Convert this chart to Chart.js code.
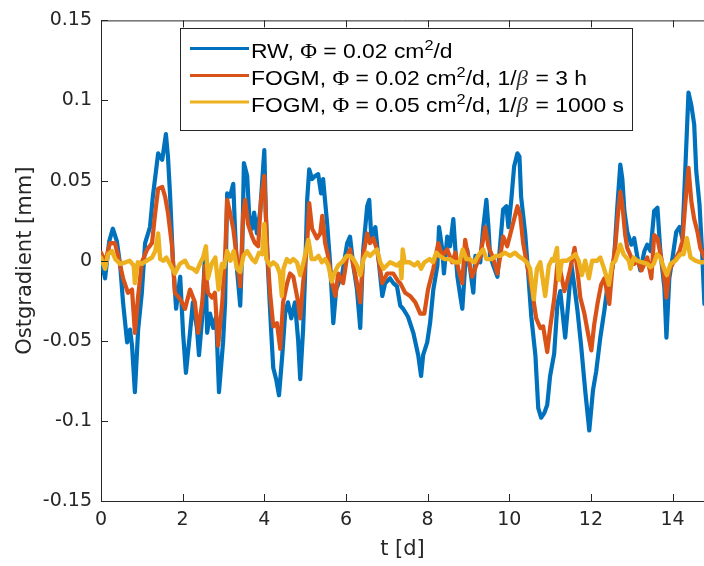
<!DOCTYPE html>
<html>
<head>
<meta charset="utf-8">
<script src="https://cdn.jsdelivr.net/npm/chart.js@4"></script>
<style>
html,body{margin:0;padding:0;background:#fff;}
#wrap{width:704px;height:566px;position:relative;}
</style>
</head>
<body>
<div id="wrap"><canvas id="c" width="704" height="566"></canvas></div>
<script>
// ---------------- DATA ----------------
const seriesNames = [
  'RW, Φ = 0.02 cm²/d',
  'FOGM, Φ = 0.02 cm²/d, 1/β = 3 h',
  'FOGM, Φ = 0.05 cm²/d, 1/β = 1000 s'
];
const xTickValues = [0, 2, 4, 6, 8, 10, 12, 14];
const yTickValues = [-0.15, -0.1, -0.05, 0, 0.05, 0.1, 0.15];
const yTickLabels = ['-0.15', '-0.1', '-0.05', '0', '0.05', '0.1', '0.15'];
const xTitle = 't [d]';
const yTitle = 'Ostgradient [mm]';

// RW (blue) – time [d]
const tBlue = [
  0,0.10,0.20,0.29,0.39,0.47,0.54,0.64,0.71,0.76,0.83,0.91,1.00,
  1.08,1.20,1.27,1.40,1.50,1.59,1.64,1.69,1.76,1.84,1.94,2.01,2.08,
  2.18,2.25,2.35,2.40,2.48,2.55,2.60,2.67,2.75,2.82,2.89,2.99,3.04,
  3.09,3.16,3.24,3.28,3.33,3.41,3.46,3.50,3.58,3.63,3.70,3.75,3.82,3.90,4.00,
  4.04,4.09,4.17,4.22,4.29,4.36,4.44,4.51,4.58,4.66,4.75,4.83,4.88,4.95,5.00,
  5.05,5.10,5.17,5.25,5.32,5.39,5.44,5.54,5.61,5.69,5.76,5.91,6.03,
  6.10,6.18,6.27,6.35,6.42,6.52,6.57,6.62,6.72,6.79,6.89,6.96,7.08,
  7.16,7.25,7.33,7.40,7.52,7.65,7.77,7.84,7.89,7.99,8.06,
  8.14,8.24,8.28,8.36,8.40,8.48,8.55,8.63,8.68,8.73,8.80,8.85,8.92,8.97,9.04,
  9.12,9.17,9.29,9.36,9.44,9.49,9.53,9.61,9.71,9.78,9.85,9.93,9.98,10.05,
  10.12,10.20,10.25,10.29,10.39,10.47,10.54,10.64,10.71,10.78,10.86,10.93,11.00,
  11.10,11.18,11.25,11.32,11.37,11.45,11.52,11.59,11.67,11.76,11.86,11.96,12.05,
  12.13,12.23,12.33,12.40,12.48,12.57,12.65,12.72,12.77,12.82,12.89,12.99,13.06,
  13.14,13.21,13.31,13.38,13.46,13.55,13.63,13.70,13.80,13.85,13.92,14.00,
  14.09,14.17,14.24,14.31,14.39,14.46,14.53,14.58,14.66,14.73,14.78
];
const vBlue = [
  0.001,-0.011,0.012,0.020,0.012,-0.003,-0.026,-0.051,-0.043,-0.053,-0.082,-0.043,-0.020,
  0.011,0.021,0.040,0.067,0.063,0.079,0.065,0.042,0.001,-0.030,-0.010,-0.045,-0.070,
  -0.045,-0.026,-0.042,-0.059,-0.035,0.007,-0.045,-0.033,-0.042,-0.035,-0.082,-0.051,-0.026,
  0.042,0.040,0.048,0.021,-0.005,-0.028,0.007,0.061,0.053,0.028,0.020,0.030,0.017,0.031,0.069,
  0.028,-0.005,-0.045,-0.067,-0.074,-0.084,-0.059,-0.033,-0.026,-0.036,-0.026,-0.050,-0.074,-0.043,-0.008,
  0.038,0.057,0.051,0.053,0.054,0.042,0.051,0.023,-0.001,-0.039,-0.018,-0.008,0.011,
  0.015,-0.003,-0.018,-0.042,0.006,0.034,0.038,0.015,0.021,0.003,-0.022,-0.014,-0.011,
  -0.014,-0.016,-0.028,-0.030,-0.035,-0.045,-0.059,-0.072,-0.059,-0.051,-0.039,
  -0.018,-0.003,0.021,0.007,-0.008,0.015,0.009,0.026,0.007,-0.010,-0.022,-0.030,-0.003,0.007,-0.005,
  -0.020,0.003,-0.001,0.020,0.038,0.021,0.003,-0.003,-0.010,0.011,0.032,0.034,0.021,0.038,
  0.059,0.067,0.065,0.040,0.017,-0.010,-0.035,-0.059,-0.092,-0.098,-0.095,-0.090,-0.072,
  -0.058,-0.027,-0.019,-0.036,-0.048,-0.025,-0.002,-0.015,-0.031,-0.053,-0.081,-0.106,-0.081,
  -0.069,-0.048,-0.031,-0.017,-0.011,0.002,0.035,0.060,0.051,0.031,0.018,0.010,0.014,
  0.002,-0.006,0.006,0.010,0.006,0.031,0.033,0.006,-0.017,-0.048,-0.011,0.002,
  0.018,0.021,0.014,0.056,0.105,0.097,0.085,0.056,0.035,0.002,-0.027
];

// FOGM 3 h (orange)
const tOrange = [
  0,0.10,0.22,0.34,0.42,0.54,0.66,0.76,0.83,0.91,1.00,
  1.13,1.25,1.32,1.40,1.50,1.57,1.64,1.74,1.81,1.94,2.06,
  2.18,2.30,2.38,2.48,2.55,2.62,2.72,2.79,2.87,2.97,3.04,
  3.09,3.16,3.24,3.33,3.41,3.48,3.53,3.60,3.70,3.77,3.85,3.92,4.00,
  4.07,4.14,4.22,4.31,4.39,4.46,4.56,4.63,4.71,4.83,4.88,4.95,5.05,
  5.10,5.17,5.29,5.37,5.42,5.49,5.56,5.66,5.74,5.81,5.93,6.03,
  6.10,6.18,6.27,6.35,6.42,6.52,6.59,6.67,6.76,6.89,7.01,
  7.16,7.28,7.33,7.45,7.57,7.70,7.82,7.92,8.01,
  8.14,8.26,8.36,8.48,8.60,8.68,8.75,8.85,8.92,9.00,
  9.09,9.22,9.29,9.41,9.49,9.61,9.71,9.78,9.85,9.95,10.07,
  10.20,10.27,10.34,10.44,10.56,10.66,10.76,10.83,10.93,11.00,
  11.10,11.18,11.25,11.35,11.42,11.52,11.60,11.67,11.74,11.84,11.94,12.01,
  12.08,12.16,12.25,12.33,12.45,12.52,12.60,12.67,12.72,12.77,12.84,12.89,12.99,
  13.06,13.14,13.24,13.31,13.38,13.48,13.55,13.63,13.72,13.80,13.85,13.92,14.00,
  14.09,14.17,14.24,14.31,14.39,14.46,14.53,14.61,14.68,14.78
];
const vOrange = [
  0.005,-0.001,0.011,0.011,0.003,-0.011,-0.020,-0.018,-0.045,-0.022,-0.001,
  0.007,0.011,0.028,0.045,0.046,0.040,0.030,0.009,-0.020,-0.024,-0.030,
  -0.018,-0.026,-0.045,-0.026,-0.003,-0.020,-0.023,-0.020,-0.053,-0.026,0.003,
  0.038,0.030,0.020,0.001,-0.016,0.028,0.038,0.023,0.015,0.011,0.009,0.038,0.053,
  0.007,-0.020,-0.041,-0.039,-0.055,-0.026,-0.014,-0.008,-0.010,-0.026,-0.036,-0.014,0.011,
  0.036,0.020,0.014,0.017,0.028,0.011,0.003,-0.014,-0.022,-0.008,-0.014,0.003,
  0.007,-0.003,-0.014,-0.026,0.003,0.017,0.011,0.014,0.007,-0.014,-0.008,
  -0.008,-0.013,-0.014,-0.020,-0.022,-0.026,-0.033,-0.033,-0.018,
  -0.005,0.011,0.003,0.007,-0.001,0.005,-0.005,-0.014,0.013,0.001,
  -0.010,-0.001,0.003,0.021,0.009,0.001,-0.008,0.003,0.015,0.009,0.021,
  0.034,0.028,0.011,-0.003,-0.019,-0.036,-0.042,-0.041,-0.057,-0.042,
  -0.024,-0.002,-0.006,-0.019,-0.013,-0.002,0.008,-0.006,-0.023,-0.033,-0.047,-0.056,
  -0.040,-0.027,-0.015,-0.011,-0.027,-0.006,0.010,0.031,0.043,0.035,0.016,0.008,0.002,
  -0.002,0.000,-0.006,-0.002,0.002,-0.011,0.016,0.014,0.002,-0.011,-0.023,-0.006,-0.002,
  0.002,0.006,0.012,0.035,0.058,0.037,0.026,0.018,0.008,0.002
];

// FOGM 1000 s (yellow)
const tYellow = [
  0,0.10,0.17,0.27,0.35,0.47,0.60,0.70,0.80,0.83,0.90,1.00,
  1.12,1.25,1.33,1.40,1.45,1.53,1.60,1.69,1.81,1.93,
  2.06,2.14,2.25,2.34,2.42,2.50,2.57,2.62,2.71,2.80,2.88,2.96,
  3.02,3.09,3.17,3.25,3.33,3.41,3.49,3.58,3.70,3.78,3.87,3.95,
  4.00,4.05,4.14,4.22,4.31,4.38,4.43,4.47,4.55,4.63,4.71,4.80,4.88,4.96,
  5.08,5.16,5.24,5.33,5.41,5.49,5.57,5.65,5.73,5.81,5.90,
  6.02,6.10,6.18,6.27,6.35,6.43,6.51,6.59,6.67,6.76,6.84,6.92,
  7.08,7.25,7.33,7.36,7.39,7.44,7.56,7.68,7.76,7.84,7.92,
  8.05,8.13,8.21,8.29,8.42,8.54,8.66,8.78,8.86,8.95,
  9.03,9.15,9.23,9.36,9.44,9.56,9.68,9.77,9.89,
  10.02,10.14,10.22,10.34,10.43,10.51,10.60,10.68,10.76,10.88,10.97,
  11.05,11.09,11.17,11.21,11.29,11.41,11.53,11.62,11.70,11.78,11.86,11.95,
  12.03,12.15,12.23,12.31,12.44,12.52,12.60,12.72,12.80,12.93,12.97,
  13.05,13.13,13.26,13.38,13.46,13.54,13.62,13.70,13.78,13.86,13.95,
  14.07,14.19,14.27,14.35,14.44,14.56,14.68,14.78
];
const vYellow = [
  0.002,-0.005,0.004,0.006,0.001,-0.002,-0.001,0.000,-0.003,-0.014,-0.001,-0.002,
  0.000,0.002,0.006,0.017,0.001,0.000,0.002,-0.002,-0.008,-0.002,
  0.000,-0.004,-0.005,-0.007,-0.002,0.002,0.009,-0.011,-0.002,0.002,-0.018,-0.002,
  -0.004,0.006,0.000,0.006,-0.005,-0.007,0.003,0.006,0.001,-0.001,0.005,0.004,
  0.023,0.001,-0.003,-0.001,-0.003,-0.008,-0.022,-0.005,0.001,-0.001,0.001,-0.001,-0.009,-0.001,
  0.013,0.001,0.001,0.003,-0.001,0.001,-0.003,-0.013,-0.007,-0.003,-0.001,
  0.003,0.003,0.001,-0.003,-0.009,0.001,0.005,0.003,0.005,0.007,-0.001,-0.005,
  -0.001,-0.003,-0.001,-0.011,0.007,-0.001,-0.001,-0.003,-0.001,-0.005,-0.001,
  0.001,-0.001,0.005,0.003,0.001,0.001,-0.001,-0.001,0.007,0.001,
  0.001,-0.001,0.003,0.007,0.001,0.001,0.003,0.003,0.005,
  0.003,0.005,0.003,0.001,-0.001,-0.005,-0.024,-0.005,-0.001,-0.022,-0.003,
  0.001,0.000,0.008,-0.012,0.000,0.000,0.002,0.004,0.000,-0.009,0.000,-0.011,
  0.000,0.000,0.002,-0.004,-0.015,-0.002,0.000,0.010,0.004,0.000,-0.005,
  0.002,0.000,-0.001,-0.002,-0.004,-0.002,0.004,0.002,-0.004,-0.009,-0.002,
  0.000,0.004,0.004,0.014,0.002,0.000,-0.001,-0.001
];

// ---------------- STYLE ----------------
const COLORS = ['#0072BD', '#D95319', '#EDB120'];
const AXIS = '#262626';
const FONT = '"DejaVu Sans", "Liberation Sans", Arial, sans-serif';
const LFONT = '"Liberation Sans", Arial, Helvetica, sans-serif';
const LSERIF = '"Liberation Serif", "DejaVu Serif", serif';

function pts(t, v) { return t.map((x, i) => ({ x: x, y: v[i] })); }

const overlay = {
  id: 'overlay',
  afterDraw(chart) {
    const ctx = chart.ctx, a = chart.chartArea;
    const xs = chart.scales.x, ys = chart.scales.y;
    ctx.save();
    ctx.strokeStyle = AXIS;
    ctx.lineWidth = 1;
    ctx.beginPath();
    ctx.moveTo(a.left, a.top + 0.5); ctx.lineTo(a.right, a.top + 0.5);
    xTickValues.forEach(v => {
      const px = Math.round(xs.getPixelForValue(v)) + 0.5;
      ctx.moveTo(px, a.bottom); ctx.lineTo(px, a.bottom - 7);
      ctx.moveTo(px, a.top); ctx.lineTo(px, a.top + 7);
    });
    yTickValues.forEach(v => {
      const py = Math.round(ys.getPixelForValue(v)) + 0.5;
      ctx.moveTo(a.left, py); ctx.lineTo(a.left + 7, py);
    });
    ctx.stroke();

    // legend box
    const L = 180.5, T = 28.5, R = 632.5, B = 130.5;
    ctx.fillStyle = '#fff';
    ctx.fillRect(L, T, R - L, B - T);
    ctx.strokeStyle = AXIS;
    ctx.lineWidth = 1;
    ctx.strokeRect(L, T, R - L, B - T);
    const lineY = [48.5, 75.5, 102];
    const baseY = [58, 85, 112];
    const SX = 1.09;
    seriesNames.forEach((name, i) => {
      ctx.strokeStyle = COLORS[i];
      ctx.lineWidth = 3;
      ctx.beginPath();
      ctx.moveTo(190, lineY[i]); ctx.lineTo(249, lineY[i]);
      ctx.stroke();
      // split rich text: ² -> superscript 2, Φ -> upright serif, β -> italic serif
      const parts = [];
      let buf = '';
      for (const ch of name) {
        if (ch === '²' || ch === 'β' || ch === 'Φ') {
          if (buf) parts.push({ t: buf });
          buf = '';
          if (ch === '²') parts.push({ t: '2', sup: true });
          else if (ch === 'β') parts.push({ t: 'β', it: true });
          else parts.push({ t: 'Φ', serif: true });
        } else buf += ch;
      }
      if (buf) parts.push({ t: buf });
      ctx.save();
      ctx.translate(251, baseY[i]);
      ctx.scale(SX, 1);
      ctx.textBaseline = 'alphabetic';
      ctx.textAlign = 'left';
      let x = 0;
      parts.forEach(p => {
        let font;
        if (p.sup) font = '15px ' + LFONT;
        else if (p.it) font = 'italic 21px ' + LSERIF;
        else if (p.serif) font = '21px ' + LSERIF;
        else font = '21px ' + LFONT;
        ctx.font = font;
        ctx.fillStyle = p.it ? '#333' : '#000';
        ctx.fillText(p.t, x, p.sup ? -8.5 : 0);
        x += ctx.measureText(p.t).width + (p.it ? 1 : 0);
      });
      ctx.restore();
    });
    ctx.restore();
  }
};

new Chart(document.getElementById('c'), {
  type: 'line',
  data: {
    datasets: [
      { label: seriesNames[0], data: pts(tBlue, vBlue), borderColor: COLORS[0], order: 3 },
      { label: seriesNames[1], data: pts(tOrange, vOrange), borderColor: COLORS[1], order: 2 },
      { label: seriesNames[2], data: pts(tYellow, vYellow), borderColor: COLORS[2], order: 1, borderWidth: 4.4 }
    ]
  },
  options: {
    responsive: false,
    animation: false,
    devicePixelRatio: 1,
    layout: { padding: { left: 0, right: 0, top: 19, bottom: 0 } },
    elements: {
      line: { borderWidth: 4.2, tension: 0, borderJoinStyle: 'round', borderCapStyle: 'round', fill: false },
      point: { radius: 0, hoverRadius: 0 }
    },
    plugins: { legend: { display: false }, tooltip: { enabled: false } },
    scales: {
      x: {
        type: 'linear',
        min: 0, max: 14.77,
        afterBuildTicks: s => { s.ticks = xTickValues.map(v => ({ value: v })); },
        afterFit: s => { s.height = 65; },
        grid: { display: false, drawTicks: false },
        border: { display: true, color: AXIS, width: 1 },
        ticks: { color: '#262626', font: { family: FONT, size: 19 }, padding: 8, maxRotation: 0, autoSkip: false,
                 callback: v => String(v) },
        title: { display: true, text: xTitle, color: '#262626', font: { family: FONT, size: 21 }, padding: { top: 0, bottom: 4 } }
      },
      y: {
        type: 'linear',
        min: -0.15, max: 0.15,
        afterBuildTicks: s => { s.ticks = yTickValues.map(v => ({ value: v })); },
        afterFit: s => { s.width = 101; },
        grid: { display: false, drawTicks: false },
        border: { display: true, color: AXIS, width: 1 },
        ticks: { color: '#262626', font: { family: FONT, size: 19 }, padding: 9, autoSkip: false,
                 callback: (v, i) => yTickLabels[i] },
        title: { display: true, text: yTitle, color: '#262626', font: { family: FONT, size: 21 }, padding: { top: 13, bottom: 0 } }
      }
    }
  },
  plugins: [overlay]
});
</script>
</body>
</html>
